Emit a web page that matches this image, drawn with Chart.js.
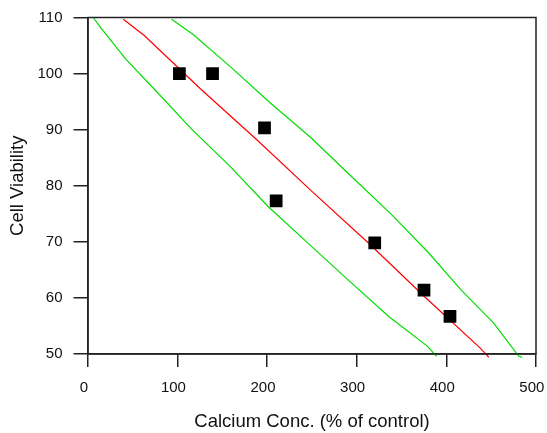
<!DOCTYPE html>
<html>
<head>
<meta charset="utf-8">
<script src="https://cdn.jsdelivr.net/npm/chart.js@4/dist/chart.umd.min.js"></script>
<style>
html,body{margin:0;padding:0;background:#fff;}
#wrap{width:547px;height:433px;}
</style>
</head>
<body>
<div id="wrap"><canvas id="c" width="547" height="433"></canvas></div>
<script>
// Data
const obsX = [102, 139, 197, 210, 320, 375, 404];
const obsY = [100, 100, 90.3, 77.3, 69.8, 61.4, 56.7];

const fitX = [39.4, 62.8, 126, 188.4, 250.5, 313.6, 375.7, 438.1, 447.4];
const fitY = [109.7, 106.8, 97.2, 88.2, 78.9, 69.7, 60.2, 51.0, 49.4];

const lowX = [5.9, 14.5, 42.7, 78.8, 115.6, 158.3, 201, 246.7, 292.4, 336.3, 378.7, 389];
const lowY = [110, 108.1, 102.5, 96.4, 90.1, 83.5, 76.3, 69.6, 62.9, 56.6, 51.4, 49.6];

const upX = [93.3, 117, 159.1, 203.2, 248.6, 294.3, 338.6, 379.8, 416.6, 452.3, 480.8, 484.6];
const upY = [109.7, 107, 101.2, 94.8, 88.6, 81.6, 74.9, 68.1, 61.4, 55.6, 49.6, 49.4];

const xTicks = [0, 100, 200, 300, 400, 500];
const yTicks = [50, 60, 70, 80, 90, 100, 110];

const pts = (xs, ys) => xs.map((x, i) => ({x: x, y: ys[i]}));

const frame = {
  id: 'frame',
  afterDatasetsDraw(chart) {
    const a = chart.chartArea, ctx = chart.ctx;
    ctx.save();
    ctx.strokeStyle = '#222';
    ctx.lineWidth = 1.5;
    ctx.strokeRect(a.left, a.top, a.right - a.left, a.bottom - a.top);
    ctx.restore();
  }
};

const fam = '"Liberation Sans", Arial, sans-serif';
const tickFont = {family: fam, size: 15};
const titleFont = {family: fam, size: 18.5};

new Chart(document.getElementById('c'), {
  type: 'scatter',
  data: {
    datasets: [
      {data: pts(obsX, obsY), pointStyle: 'rect', pointRadius: 9, pointHoverRadius: 9,
       backgroundColor: '#000', borderColor: '#000', borderWidth: 0, showLine: false, order: 0},
      {data: pts(fitX, fitY), showLine: true, borderColor: '#ff0000', borderWidth: 1.2,
       pointRadius: 0, fill: false, clip: false, order: 1},
      {data: pts(lowX, lowY), showLine: true, borderColor: '#00dd00', borderWidth: 1.2,
       pointRadius: 0, fill: false, clip: false, order: 1},
      {data: pts(upX, upY), showLine: true, borderColor: '#00dd00', borderWidth: 1.2,
       pointRadius: 0, fill: false, clip: false, order: 1}
    ]
  },
  options: {
    responsive: false,
    animation: false,
    events: [],
    layout: {padding: {top: 17.5, right: 0, left: 0, bottom: 0}},
    plugins: {legend: {display: false}, tooltip: {enabled: false}},
    scales: {
      x: {
        type: 'linear', min: 0, max: 500,
        afterBuildTicks: s => { s.ticks = xTicks.map(v => ({value: v})); },
        afterFit: s => { s.height = 79; s.paddingLeft = 0; s.paddingRight = 11; },
        grid: {drawOnChartArea: false, drawTicks: true, tickLength: 13, color: '#222', lineWidth: 1.5},
        border: {display: true, color: '#222', width: 1.5},
        ticks: {color: '#111', font: tickFont, padding: 12, maxRotation: 0,
                callback: v => v + '  '},
        title: {display: true, text: 'Calcium Conc. (% of control)', color: '#111',
                font: titleFont, padding: {top: 14, bottom: 0}}
      },
      y: {
        type: 'linear', min: 50, max: 110,
        afterBuildTicks: s => { s.ticks = yTicks.map(v => ({value: v})); },
        afterFit: s => { s.width = 88; s.paddingTop = 0; s.paddingBottom = 0; },
        grid: {drawOnChartArea: false, drawTicks: true, tickLength: 14.5, color: '#222', lineWidth: 1.5},
        border: {display: true, color: '#222', width: 1.5},
        ticks: {color: '#111', font: tickFont, padding: 11},
        title: {display: true, text: 'Cell Viability', color: '#111',
                font: titleFont, padding: {top: 7, bottom: 8}}
      }
    }
  },
  plugins: [frame]
});
</script>
</body>
</html>
